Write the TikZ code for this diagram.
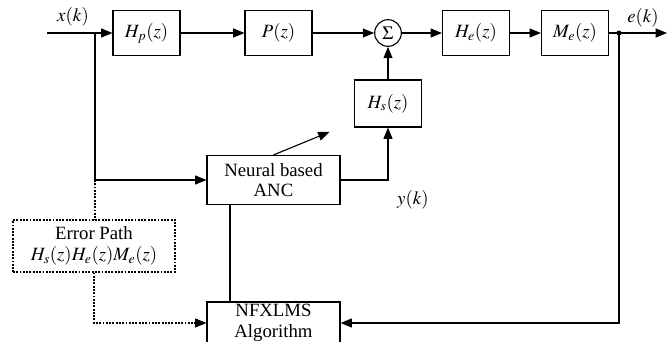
\documentclass[tikz,border=0pt]{standalone}
\usepackage{mathptmx}
\usepackage{fontspec}
\setmainfont{Liberation Serif}
\usepackage{tikz}
\usetikzlibrary{arrows.meta}

\begin{document}
\begin{tikzpicture}[x=0.03cm,y=-0.03cm,
		font=\fontsize{16}{17.5}\selectfont,
		line width=0.95pt,
		>={Triangle[length=3.4mm,width=2.7mm]},
		blk/.style={draw,minimum width=2.01cm,minimum height=1.35cm,inner sep=1pt},
		bigblk/.style={draw,minimum width=3.99cm,minimum height=1.47cm,align=center,inner sep=1pt},
		dotline/.style={dash pattern=on 1.6pt off 1.2pt}]
				% 画布范围
				\clip (0,0) rectangle (668,342);
				
				% 上方主通路
				\node[blk] (hp) at (146.5,33) {$H_p(z)$};
				\node[blk] (p) at (278.5,33) {$P(z)$};
				\node[circle,draw,inner sep=0pt,minimum size=0.8cm] (sum) at (388,33) {$\Sigma$};
				\node[blk] (he) at (476,33) {$H_e(z)$};
				\node[blk] (me) at (575,33) {$M_e(z)$};
				\node[blk,minimum height=1.41cm] (hs) at (388,103.5) {$H_s(z)$};
				
				% 下方方框
				\node[bigblk] (anc) at (273.5,180) {Neural based\\ANC};
				\node[bigblk,minimum height=1.26cm] (nfx) at (273.5,323) {NFXLMS\\Algorithm};
				\node[draw,dotline,minimum width=4.86cm,minimum height=1.56cm,align=center,inner sep=1pt] (err) at (94,246) {Error Path\\$H_s(z)H_e(z)M_e(z)$};
				
				% 辅助点
				\coordinate (in) at (47,33);
				\coordinate (j1) at (95,33);
				\coordinate (j2) at (95,180);
				\coordinate (dot) at (619,33);
				\coordinate (out) at (667,33);
				\coordinate (v) at (230,250);
				
				% 连线
				\draw[->] (in) -- (hp);
				\draw[->] (hp) -- (p);
				\draw[->] (p) -- (sum);
				\draw[->] (sum) -- (he);
				\draw[->] (he) -- (me);
				\draw (me) -- (dot);
				\draw[->] (dot) -- (out);
				\fill (dot) circle (2.5);
				\draw[->] (hs) -- (sum);
				
				\draw (j1) -- (j2);
				\draw[->] (j2) -- (anc);
				\draw[->] (anc.east) -| (hs.south);
				\draw[->] (anc.north) -- ++(56,-23);
				\draw (v |- anc.south) -- (v |- nfx.north);
				\draw[->] (dot) |- (nfx.east);
				
				% 误差通路(虚线)
				\draw[dotline] (j2) -- (j2 |- err.north);
				\draw[dotline,->] (err.south) |- (nfx.west);
				
				% 标注
				\node (xk) at (73,17) {$x(k)$};
				\node (ek) at (643,18) {$e(k)$};
				\node (yk) at (413,200) {$y(k)$};
			
			\end{tikzpicture}
\end{document}
